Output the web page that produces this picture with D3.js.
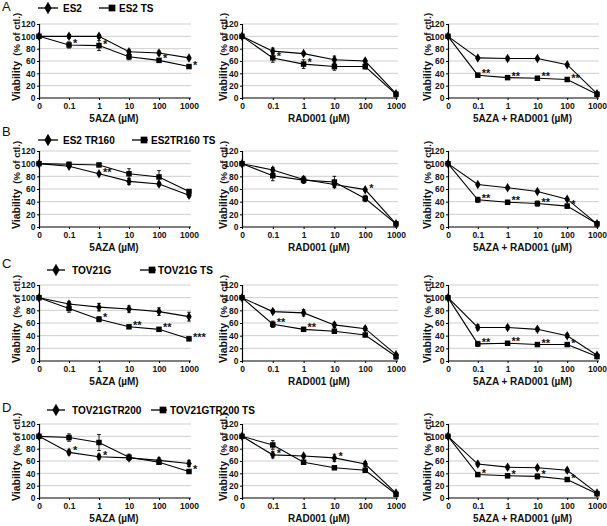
<!DOCTYPE html>
<html><head><meta charset="utf-8">
<script src="https://cdn.jsdelivr.net/npm/d3@7"></script>
<style>body{margin:0;background:#fff}svg{display:block;font-family:"Liberation Sans",Arial,sans-serif}</style>
</head><body><svg id="c" width="607" height="526"></svg>
<script>
const doses = ["0","0.1","1","10","100","1000"];
const yTicks = [0,20,40,60,80,100,120];
const xTitles = ["5AZA (\u00b5M)","RAD001 (\u00b5M)","5AZA + RAD001 (\u00b5M)"];
const rowLetters = ["A","B","C","D"];
const seriesNames = [["ES2","ES2 TS"],["ES2 TR160","ES2TR160 TS"],["TOV21G","TOV21G TS"],["TOV21GTR200","TOV21GTR200 TS"]];

// means (series 1 = diamond, series 2 = square) and error bars
const A1_s1=[100,100,100,75,73,65], A1_e1=[0,3,3,3,3,2];
const A1_s2=[100,86,85,67,61,51],   A1_e2=[0,5,8,5,3,2];
const A2_s1=[100,76,72,62,60,7],    A2_e1=[0,5,2,6,3,2];
const A2_s2=[100,65,55,51,51,6],    A2_e2=[0,7,7,6,4,2];
const A3_s1=[100,65,64,64,54,7],    A3_e1=[0,2,3,2,2,2];
const A3_s2=[100,37,33,32,30,6],    A3_e2=[0,3,3,3,2,2];
const B1_s1=[100,96,84,72,68,50],   B1_e1=[0,2,2,5,3,3];
const B1_s2=[100,99,98,84,79,56],   B1_e2=[0,3,2,8,10,3];
const B2_s1=[100,90,75,67,59,5],    B2_e1=[0,4,5,4,2,1];
const B2_s2=[100,81,74,71,45,5],    B2_e2=[0,8,5,9,5,2];
const B3_s1=[100,67,62,56,44,5],    B3_e1=[0,2,2,2,2,1];
const B3_s2=[100,43,39,37,33,5],    B3_e2=[0,4,3,4,3,1];
const C1_s1=[100,90,85,82,78,70],   C1_e1=[0,4,6,5,6,7];
const C1_s2=[100,83,66,54,50,35],   C1_e2=[0,6,4,2,2,2];
const C2_s1=[100,78,76,57,51,10],   C2_e1=[0,3,5,4,3,2];
const C2_s2=[100,58,50,47,41,7],    C2_e2=[0,5,3,3,2,4];
const C3_s1=[100,53,53,50,40,9],    C3_e1=[0,4,3,3,3,2];
const C3_s2=[100,27,28,26,26,7],    C3_e2=[0,4,2,2,2,2];
const D1_s1=[100,74,67,65,61,56],   D1_e1=[0,4,4,3,4,5];
const D1_s2=[100,98,90,66,58,43],   D1_e2=[0,6,13,5,3,2];
const D2_s1=[100,70,68,65,55,8],    D2_e1=[0,5,3,6,4,2];
const D2_s2=[100,86,58,49,45,6],    D2_e2=[0,7,2,2,3,2];
const D3_s1=[100,55,50,49,45,8],    D3_e1=[0,3,3,3,3,2];
const D3_s2=[100,38,36,35,30,7],    D3_e2=[0,3,3,4,3,1];

// significance marks: [series, dose index, label]
const A1_st=[[2,1,"*"],[2,2,"*"],[2,4,"*"],[2,5,"*"]];
const A2_st=[[2,1,"*"],[2,2,"*"]];
const A3_st=[[2,1,"**"],[2,2,"**"],[2,3,"**"],[2,4,"**"]];
const B1_st=[[1,2,"**"]];
const B2_st=[[1,4,"*"]];
const B3_st=[[2,1,"**"],[2,2,"**"],[2,3,"**"],[2,4,"*"]];
const C1_st=[[2,2,"*"],[2,3,"**"],[2,4,"**"],[2,5,"***"]];
const C2_st=[[2,1,"**"],[2,2,"**"]];
const C3_st=[[2,1,"**"],[2,2,"**"],[2,3,"**"],[2,4,"*"]];
const D1_st=[[1,1,"*"],[1,2,"*"],[2,5,"*"]];
const D2_st=[[1,1,"*"],[1,3,"*"]];
const D3_st=[[2,1,"*"],[2,2,"*"],[2,3,"*"],[2,4,"*"]];

const panels = [
 [[A1_s1,A1_e1,A1_s2,A1_e2,A1_st],[A2_s1,A2_e1,A2_s2,A2_e2,A2_st],[A3_s1,A3_e1,A3_s2,A3_e2,A3_st]],
 [[B1_s1,B1_e1,B1_s2,B1_e2,B1_st],[B2_s1,B2_e1,B2_s2,B2_e2,B2_st],[B3_s1,B3_e1,B3_s2,B3_e2,B3_st]],
 [[C1_s1,C1_e1,C1_s2,C1_e2,C1_st],[C2_s1,C2_e1,C2_s2,C2_e2,C2_st],[C3_s1,C3_e1,C3_s2,C3_e2,C3_st]],
 [[D1_s1,D1_e1,D1_s2,D1_e2,D1_st],[D2_s1,D2_e1,D2_s2,D2_e2,D2_st],[D3_s1,D3_e1,D3_s2,D3_e2,D3_st]]
];

// layout
const cols = [{x0:39,x1:189,lab:14},{x0:242,x1:396,lab:221},{x0:448,x1:597,lab:425}];
const rows = [{y0:98,y1:24,leg:8,let:11},{y0:227,y1:151,leg:140,let:136},{y0:361,y1:285,leg:270,let:268},{y0:498,y1:424,leg:410,let:412}];
const legPos = [
 {d:[38,58,48],t1:63,s:[99,114,112],t2:119},
 {d:[38,58,48],t1:63,s:[132,148,144],t2:151},
 {d:[47,65,56],t1:72,s:[140,156,152],t2:158},
 {d:[47,65,56],t1:72,s:[151,167,163],t2:170}
];

const svg = d3.select("#c");
const diamond = d3.symbol().type(d3.symbolDiamond).size(26);
const square = d3.symbol().type(d3.symbolSquare).size(30);

rows.forEach((R,ri)=>{
  svg.append("text").attr("x",2).attr("y",R.let).attr("font-size",13).attr("fill","#111").text(rowLetters[ri]);
  const L = legPos[ri];
  const lg = svg.append("g").attr("transform",`translate(0,${R.leg})`);
  lg.append("line").attr("x1",L.d[0]).attr("x2",L.d[1]).attr("stroke","#000").attr("stroke-width",1.3);
  lg.append("path").attr("d",d3.symbol().type(d3.symbolDiamond).size(45)()).attr("transform",`translate(${L.d[2]},0)`);
  lg.append("text").attr("x",L.t1).attr("dy","0.36em").attr("font-size",10).attr("font-weight","bold").text(seriesNames[ri][0]);
  lg.append("line").attr("x1",L.s[0]).attr("x2",L.s[1]).attr("stroke","#000").attr("stroke-width",1.3);
  lg.append("path").attr("d",d3.symbol().type(d3.symbolSquare).size(45)()).attr("transform",`translate(${L.s[2]},0)`);
  lg.append("text").attr("x",L.t2).attr("dy","0.36em").attr("font-size",10).attr("font-weight","bold").text(seriesNames[ri][1]);

  cols.forEach((C,ci)=>{
    const P = panels[ri][ci];
    const x = d3.scalePoint().domain(doses).range([C.x0,C.x1]);
    const y = d3.scaleLinear().domain([0,120]).range([R.y0,R.y1]);
    const g = svg.append("g");
    // grid
    g.selectAll(".gr").data(yTicks.filter(t=>t>0)).join("line")
      .attr("x1",C.x0).attr("x2",C.x1+2).attr("y1",d=>y(d)).attr("y2",d=>y(d))
      .attr("stroke","#cfcfcf").attr("stroke-width",1);
    // axes
    const ya = g.append("g").attr("transform",`translate(${C.x0},0)`)
      .call(d3.axisLeft(y).tickValues(yTicks).tickSize(2).tickPadding(1.5));
    const xa = g.append("g").attr("transform",`translate(0,${R.y0})`)
      .call(d3.axisBottom(x).tickSize(2).tickPadding(3));
    [ya,xa].forEach(a=>{
      a.select(".domain").attr("stroke","#000").attr("stroke-width",1.2);
      a.selectAll(".tick line").attr("stroke","#000");
      a.selectAll("text").attr("font-size",8.5).attr("font-weight","bold").attr("fill","#111")
        .attr("font-family","'Liberation Sans',Arial,sans-serif");
    });
    xa.select(".domain").attr("d",`M${C.x0},0H${C.x1+2}`);
    // axis titles
    g.append("text").attr("x",(C.x0+C.x1)/2).attr("y",R.y0+24).attr("text-anchor","middle")
      .attr("font-size",10).attr("font-weight","bold").attr("fill","#111").text(xTitles[ci]);
    const yl = g.append("text").attr("transform",`translate(${C.lab},${(R.y0+R.y1)/2-4}) rotate(-90)`)
      .attr("text-anchor","middle").attr("dy","0.35em").attr("font-weight","bold").attr("fill","#111");
    yl.append("tspan").attr("font-size",10.5).text("Viability");
    yl.append("tspan").attr("font-size",9.5).text("\u00a0 (% of ctl.)");
    // series
    const ser = [[P[0],P[1],diamond],[P[2],P[3],square]];
    const line = d3.line().x((d,i)=>x(doses[i])).y(d=>y(d));
    ser.forEach(([v,e,sym])=>{
      g.append("path").attr("d",line(v)).attr("fill","none").attr("stroke","#000").attr("stroke-width",1.1);
      const eb = g.append("g");
      v.forEach((m,i)=>{
        if(!e[i]) return;
        const cx=x(doses[i]);
        eb.append("line").attr("x1",cx).attr("x2",cx).attr("y1",y(m-e[i])).attr("y2",y(m+e[i])).attr("stroke","#000").attr("stroke-width",0.9);
        [m-e[i],m+e[i]].forEach(t=>eb.append("line").attr("x1",cx-1.8).attr("x2",cx+1.8).attr("y1",y(t)).attr("y2",y(t)).attr("stroke","#000").attr("stroke-width",0.9));
      });
      g.selectAll(null).data(v).join("path").attr("d",sym()).attr("fill","#000")
        .attr("transform",(d,i)=>`translate(${x(doses[i])},${y(d)})`);
    });
    // stars
    P[4].forEach(([s,i,lab])=>{
      const v = s===1?P[0]:P[2];
      g.append("text").attr("x",x(doses[i])+4).attr("y",y(v[i])+2).attr("font-size",11).attr("font-weight","bold")
        .attr("fill","#111").text(lab);
    });
  });
});
</script></body></html>
